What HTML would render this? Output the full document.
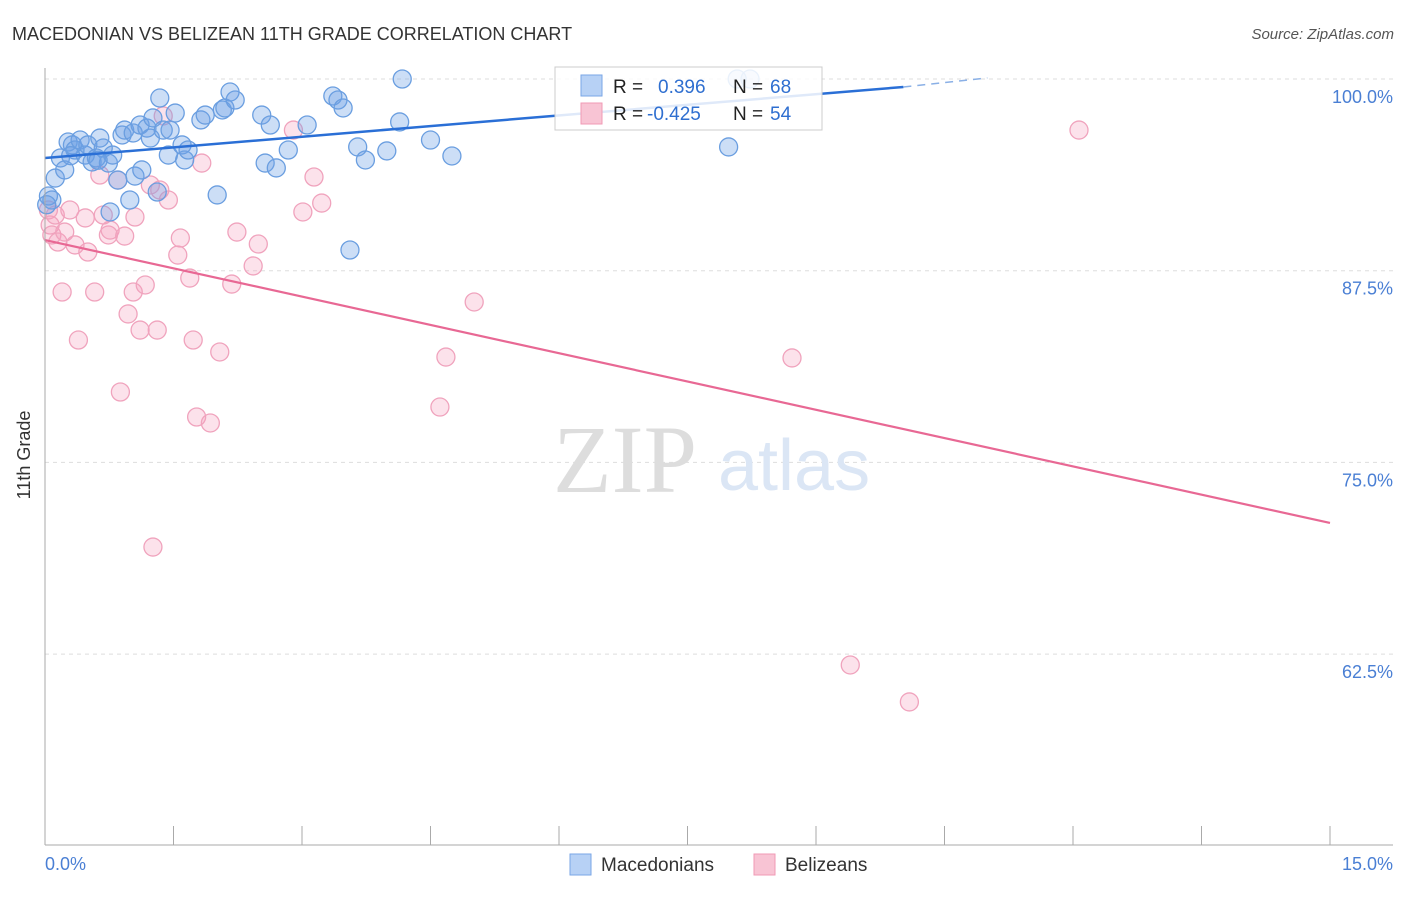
<!DOCTYPE html>
<html><head><meta charset="utf-8"><style>
body{margin:0;background:#fff;font-family:"Liberation Sans",sans-serif}
</style></head><body>
<svg width="1406" height="892" xmlns="http://www.w3.org/2000/svg">
<text x="12" y="40" font-size="18" fill="#333">MACEDONIAN VS BELIZEAN 11TH GRADE CORRELATION CHART</text>
<text x="1394" y="39" font-size="15" fill="#555" font-style="italic" text-anchor="end">Source: ZipAtlas.com</text>
<g id="grid"></g>
<g><text x="553" y="492" font-size="96" font-family="Liberation Serif" fill="#ddd">ZIP</text><text x="718" y="490" font-size="72" fill="#dbe6f5">atlas</text></g>
<g id="pts"></g>
<g id="lines"></g>
<line x1="45" y1="68" x2="45" y2="845" stroke="#aaa"/>
<line x1="45" y1="845" x2="1393" y2="845" stroke="#aaa"/>
<g id="ticks"></g>
<text x="30" y="455" font-size="18" fill="#333" text-anchor="middle" transform="rotate(-90 30 455)">11th Grade</text>
<text x="45" y="870" font-size="18" fill="#4a7fd4">0.0%</text>
<text x="1393" y="870" font-size="18" fill="#4a7fd4" text-anchor="end">15.0%</text>
<g>
<rect x="555" y="67" width="267" height="63" fill="#fff" fill-opacity="0.85" stroke="#ccc"/>
<rect x="581" y="75" width="21" height="21" fill="#b7d1f5" stroke="#7aa6e6"/>
<rect x="581" y="103" width="21" height="21" fill="#f8c4d4" stroke="#f09ab5"/>
<text x="613" y="93" font-size="19" fill="#222">R = </text><text x="658" y="93" font-size="19" fill="#2f6fd0">0.396</text>
<text x="733" y="93" font-size="19" fill="#222">N = </text><text x="770" y="93" font-size="19" fill="#2f6fd0">68</text>
<text x="613" y="120" font-size="19" fill="#222">R = </text><text x="647" y="120" font-size="19" fill="#2f6fd0">-0.425</text>
<text x="733" y="120" font-size="19" fill="#222">N = </text><text x="770" y="120" font-size="19" fill="#2f6fd0">54</text>
</g>
<g>
<rect x="570" y="854" width="21" height="21" fill="#b7d1f5" stroke="#7aa6e6"/>
<text x="601" y="871" font-size="19" fill="#333">Macedonians</text>
<rect x="754" y="854" width="21" height="21" fill="#f8c4d4" stroke="#f09ab5"/>
<text x="785" y="871" font-size="19" fill="#333">Belizeans</text>
</g>
</svg>
<script>
const yTicks=[100,87.5,75,62.5];
const yTickLabels=["100.0%","87.5%","75.0%","62.5%"];
const xTicks=[0,1.5,3,4.5,6,7.5,9,10.5,12,13.5,15];
const blueX=[.04,.08,.12,.18,.23,.27,.32,.35,.41,.47,.50,.55,.60,.64,.68,.74,.79,.76,.85,.90,.93,.99,1.03,1.05,1.11,1.13,1.19,1.23,1.26,1.31,1.34,1.38,1.44,1.46,1.52,1.60,1.63,1.67,1.82,1.87,2.01,2.07,2.10,2.16,2.22,2.53,2.57,2.63,2.70,2.84,3.06,3.36,3.42,3.48,3.56,3.65,3.74,3.99,4.14,4.17,4.50,4.75,7.98,8.08,8.23,.30,.62,.02];
const blueY=[92.37,92.11,93.54,94.85,94.07,95.89,95.70,95.37,96.02,95.04,95.70,94.59,94.85,96.15,95.50,94.52,95.04,91.33,93.41,96.35,96.67,92.11,96.48,93.67,97.00,94.07,96.80,96.15,97.46,92.63,98.76,96.67,95.04,96.67,97.78,95.70,94.72,95.37,97.33,97.65,92.44,97.98,98.11,99.15,98.63,97.65,94.52,97.00,94.20,95.37,97.00,98.89,98.63,98.11,88.85,95.57,94.72,95.31,97.20,100,96.02,94.98,95.57,100,100,95.0,94.7,91.8];
const pinkX=[.04,.06,.08,.12,.15,.20,.23,.29,.35,.39,.47,.50,.58,.64,.68,.74,.76,.85,.88,.93,.97,1.03,1.05,1.11,1.17,1.23,1.26,1.31,1.34,1.38,1.44,1.55,1.58,1.69,1.73,1.77,1.83,1.93,2.04,2.18,2.24,2.43,2.49,2.90,3.01,3.14,3.23,4.61,4.68,5.01,8.72,9.40,10.09,12.07];
const pinkY=[91.46,90.48,89.83,91.13,89.37,86.11,90.02,91.46,89.18,82.98,90.94,88.72,86.11,93.74,91.13,89.83,90.15,93.41,79.59,89.76,84.68,86.11,91.00,83.63,86.57,93.09,69.48,83.63,92.76,97.59,92.11,88.52,89.63,87.02,82.98,77.96,94.52,77.57,82.20,86.63,90.02,87.81,89.24,96.67,91.33,93.61,91.91,78.61,81.87,85.46,81.81,61.79,59.38,96.67];
const blueTrend=[0,94.85,10.02,99.48,11.0,100.07];
const pinkTrend=[0,89.5,15,71.05];
const sx=v=>45+v/15*1285, sy=v=>79+(100-v)/12.5*191.7;
const NS="http://www.w3.org/2000/svg";
function mk(t,a,p){const e=document.createElementNS(NS,t);for(const k in a)e.setAttribute(k,a[k]);p.appendChild(e);return e;}
const grid=document.getElementById('grid'),ticks=document.getElementById('ticks'),pts=document.getElementById('pts'),lines=document.getElementById('lines');
yTicks.forEach((v,i)=>{const l=mk('line',{x1:45,x2:1393,y1:sy(v),y2:sy(v),stroke:'#ddd','stroke-dasharray':'4 4'},grid);


const t=mk('text',{x:1393,y:sy(v)+24,'font-size':18,fill:'#4a7fd4','text-anchor':'end'},grid);t.textContent=yTickLabels[i];

});
xTicks.forEach(v=>{const l=mk('line',{x1:sx(v),x2:sx(v),y1:826,y2:845,stroke:'#aaa'},ticks);

});
pinkX.forEach((x,i)=>{const c=mk('circle',{cx:sx(x),cy:sy(pinkY[i]),r:9,fill:'rgba(244,160,190,0.3)',stroke:'#f0a3bd','stroke-width':1.3},pts);

});
blueX.forEach((x,i)=>{const c=mk('circle',{cx:sx(x),cy:sy(blueY[i]),r:9,fill:'rgba(110,160,230,0.35)',stroke:'#6a9ee0','stroke-width':1.3},pts);

});
let l1=mk('line',{x1:sx(blueTrend[0]),y1:sy(blueTrend[1]),x2:sx(blueTrend[2]),y2:sy(blueTrend[3]),stroke:'#2a6fd6','stroke-width':2.5},lines);


let l2=mk('line',{x1:sx(blueTrend[2]),y1:sy(blueTrend[3]),x2:sx(blueTrend[4]),y2:sy(blueTrend[5]),stroke:'#8ab0e6','stroke-width':1.5,'stroke-dasharray':'8 6'},lines);


let l3=mk('line',{x1:sx(pinkTrend[0]),y1:sy(pinkTrend[1]),x2:sx(pinkTrend[2]),y2:sy(pinkTrend[3]),stroke:'#e86894','stroke-width':2.2},lines);


</script>
</body></html>
